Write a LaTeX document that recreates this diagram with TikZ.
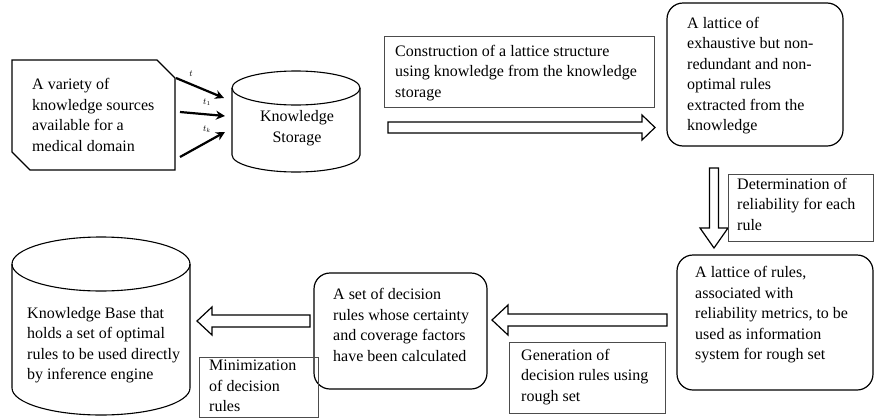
\documentclass[tikz,border=0pt]{standalone}
\usepackage{fontspec}
\setmainfont{Liberation Serif}
\usetikzlibrary{arrows.meta,calc}
\begin{document}
\begin{tikzpicture}[x=1pt,y=-1pt,
  txt/.style={inner sep=0pt, anchor=west, align=left, font=\fontsize{16}{20.5}\selectfont},
  rect/.style={draw=black!70, line width=0.9pt},
  rbox/.style={draw=black, line width=1.2pt, rounded corners=16pt},
  cyl/.style={draw=black, line width=1.1pt},
  barrow/.style={draw=black, line width=1.2pt, fill=white, line join=miter},
  tarrow/.style={line width=2.2pt, -{Stealth[length=9pt,width=9pt]}},
  tlab/.style={font=\fontsize{9}{10}\selectfont, inner sep=0pt}
]
\useasboundingbox (0,0) rectangle (875,418);

% source shape
\draw[draw=black, line width=1.1pt] (12,60) -- (157,60) -- (175,78) -- (175,170) -- (30,170) -- (12,152) -- cycle;
\node[txt] (srct) at (32,115) {A variety of\\knowledge sources\\available for a\\medical domain};

% knowledge storage cylinder
\draw[cyl] (296,88) ellipse [x radius=64pt, y radius=17pt];
\draw[cyl] (232,88) -- (232,155) arc[start angle=180, end angle=360, x radius=64pt, y radius=17pt] -- (360,88);
\node[txt, anchor=center, align=center] (ks) at (297,128) {Knowledge\\Storage};

% t arrows
\coordinate (s1) at (176,78);  \coordinate (e1) at (224,98);
\coordinate (s2) at (180,112); \coordinate (e2) at (225,116);
\coordinate (s3) at (180,157); \coordinate (e3) at (225,132);
\draw[tarrow] (s1) -- (e1);
\draw[tarrow] (s2) -- (e2);
\draw[tarrow] (s3) -- (e3);
\node[tlab] (l1) at (191,74) {$t$};
\node[tlab] (l2) at (207,102) {$t_1$};
\node[tlab] (l3) at (207,129) {$t_k$};

% construction box
\node[rect, minimum width=270, minimum height=71] (cbox) at (519,71.5) {};
\node[txt] (ct) at (395,72.7) {Construction of a lattice structure\\using knowledge from the knowledge\\storage};

% right block arrow
\draw[barrow] (388,122) -- (642,122) -- (642,115) -- (655,127.5) -- (642,140) -- (642,133) -- (388,133) -- cycle;

% lattice box 1
\node[rbox, minimum width=176, minimum height=143] (rb1) at (755,74.5) {};
\node[txt] (rb1t) at (687,75.5) {A lattice of\\exhaustive but non-\\redundant and non-\\optimal rules\\extracted from the\\knowledge};

% down block arrow
\draw[barrow] (709.5,168) -- (718.5,168) -- (718.5,228) -- (728,228) -- (714,248) -- (700,228) -- (709.5,228) -- cycle;

% determination box
\node[rect, minimum width=145, minimum height=67] (det) at (800.5,207.5) {};
\node[txt] (dett) at (737,204) {Determination of\\reliability for each\\rule};

% lattice box 2
\node[rbox, minimum width=196, minimum height=135] (rb2) at (775,322.5) {};
\node[txt] (rb2t) at (695,315) {A lattice of rules,\\associated with\\reliability metrics, to be\\used as information\\system for rough set};

% middle left block arrow
\draw[barrow] (667,314) -- (508,314) -- (508,305) -- (492,320) -- (508,335) -- (508,326) -- (667,326) -- cycle;

% generation box
\node[rect, minimum width=156, minimum height=71] (gen) at (587,377.5) {};
\node[txt] (gent) at (521,377) {Generation of\\decision rules using\\rough set};

% decision rules box
\node[rbox, minimum width=173, minimum height=116] (rb3) at (400.5,331) {};
\node[txt] (rb3t) at (333,325) {A set of decision\\rules whose certainty\\and coverage factors\\have been calculated};

% bottom left block arrow
\draw[barrow] (310,315) -- (212,315) -- (212,307) -- (197,321) -- (212,335) -- (212,327) -- (310,327) -- cycle;

% minimization box
\node[rect, minimum width=119, minimum height=60] (minb) at (258.5,387) {};
\node[txt] (mint) at (209,386) {Minimization\\of decision\\rules};

% knowledge base cylinder
\draw[cyl] (101,264) ellipse [x radius=89pt, y radius=27pt];
\draw[cyl] (12,264) -- (12,388) arc[start angle=180, end angle=360, x radius=89pt, y radius=27pt] -- (190,264);
\node[txt] (kbt) at (27,345) {Knowledge Base that\\holds a set of optimal\\rules to be used directly\\by inference engine};
\end{tikzpicture}
\end{document}
